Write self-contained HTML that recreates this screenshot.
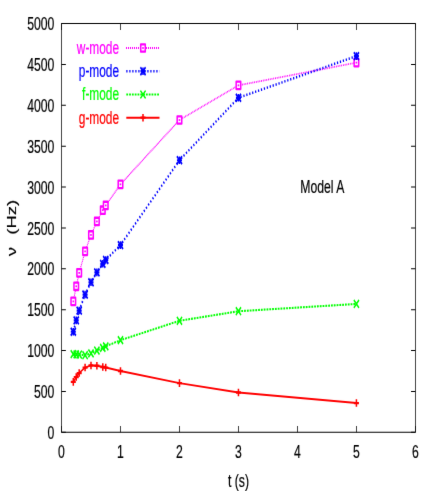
<!DOCTYPE html>
<html><head><meta charset="utf-8"><title>Mode frequencies - Model A</title>
<style>
html,body{margin:0;padding:0;background:#fff;}
body{width:436px;height:491px;overflow:hidden;}
svg{display:block;}
svg text{font-family:"Liberation Sans",sans-serif;stroke-width:0.22;paint-order:stroke;}
</style></head><body>
<svg width="436" height="491" viewBox="0 0 436 491">
<rect x="0" y="0" width="436" height="491" fill="#fff"/>
<defs><filter id="soft" color-interpolation-filters="sRGB" x="0" y="0" width="436" height="491" filterUnits="userSpaceOnUse"><feConvolveMatrix order="3" kernelMatrix="0.00490 0.06020 0.00490 0.06020 0.73960 0.06020 0.00490 0.06020 0.00490" divisor="1" edgeMode="duplicate" preserveAlpha="true"/></filter></defs>
<g filter="url(#soft)"><rect x="0" y="0" width="436" height="491" fill="#fff"/>
<g transform="scale(0.66,1)" stroke-linejoin="round">
<rect x="93.18" y="23.55" width="536.21" height="408.75" fill="none" stroke="#000" stroke-width="1.1"/>
<path d="M93.18 432.30h6.60M629.39 432.30h-6.60" stroke="#000" stroke-width="1.1"/>
<path d="M93.18 391.43h6.60M629.39 391.43h-6.60" stroke="#000" stroke-width="1.1"/>
<path d="M93.18 350.55h6.60M629.39 350.55h-6.60" stroke="#000" stroke-width="1.1"/>
<path d="M93.18 309.68h6.60M629.39 309.68h-6.60" stroke="#000" stroke-width="1.1"/>
<path d="M93.18 268.80h6.60M629.39 268.80h-6.60" stroke="#000" stroke-width="1.1"/>
<path d="M93.18 227.93h6.60M629.39 227.93h-6.60" stroke="#000" stroke-width="1.1"/>
<path d="M93.18 187.05h6.60M629.39 187.05h-6.60" stroke="#000" stroke-width="1.1"/>
<path d="M93.18 146.18h6.60M629.39 146.18h-6.60" stroke="#000" stroke-width="1.1"/>
<path d="M93.18 105.30h6.60M629.39 105.30h-6.60" stroke="#000" stroke-width="1.1"/>
<path d="M93.18 64.43h6.60M629.39 64.43h-6.60" stroke="#000" stroke-width="1.1"/>
<path d="M93.18 23.55h6.60M629.39 23.55h-6.60" stroke="#000" stroke-width="1.1"/>
<path d="M93.18 432.30v-6.40M93.18 23.55v6.40" stroke="#000" stroke-width="1.1"/>
<path d="M182.55 432.30v-6.40M182.55 23.55v6.40" stroke="#000" stroke-width="1.1"/>
<path d="M271.92 432.30v-6.40M271.92 23.55v6.40" stroke="#000" stroke-width="1.1"/>
<path d="M361.29 432.30v-6.40M361.29 23.55v6.40" stroke="#000" stroke-width="1.1"/>
<path d="M450.66 432.30v-6.40M450.66 23.55v6.40" stroke="#000" stroke-width="1.1"/>
<path d="M540.03 432.30v-6.40M540.03 23.55v6.40" stroke="#000" stroke-width="1.1"/>
<path d="M629.39 432.30v-6.40M629.39 23.55v6.40" stroke="#000" stroke-width="1.1"/>
<text x="82.27" y="438.95" text-anchor="end" font-size="18.5" stroke="#000">0</text>
<text x="82.27" y="398.07" text-anchor="end" font-size="18.5" stroke="#000">500</text>
<text x="82.27" y="357.20" text-anchor="end" font-size="18.5" stroke="#000">1000</text>
<text x="82.27" y="316.32" text-anchor="end" font-size="18.5" stroke="#000">1500</text>
<text x="82.27" y="275.45" text-anchor="end" font-size="18.5" stroke="#000">2000</text>
<text x="82.27" y="234.58" text-anchor="end" font-size="18.5" stroke="#000">2500</text>
<text x="82.27" y="193.70" text-anchor="end" font-size="18.5" stroke="#000">3000</text>
<text x="82.27" y="152.83" text-anchor="end" font-size="18.5" stroke="#000">3500</text>
<text x="82.27" y="111.95" text-anchor="end" font-size="18.5" stroke="#000">4000</text>
<text x="82.27" y="71.08" text-anchor="end" font-size="18.5" stroke="#000">4500</text>
<text x="82.27" y="30.20" text-anchor="end" font-size="18.5" stroke="#000">5000</text>
<text x="93.18" y="458.30" text-anchor="middle" font-size="18.5" stroke="#000">0</text>
<text x="182.55" y="458.30" text-anchor="middle" font-size="18.5" stroke="#000">1</text>
<text x="271.92" y="458.30" text-anchor="middle" font-size="18.5" stroke="#000">2</text>
<text x="361.29" y="458.30" text-anchor="middle" font-size="18.5" stroke="#000">3</text>
<text x="450.66" y="458.30" text-anchor="middle" font-size="18.5" stroke="#000">4</text>
<text x="540.03" y="458.30" text-anchor="middle" font-size="18.5" stroke="#000">5</text>
<text x="629.39" y="458.30" text-anchor="middle" font-size="18.5" stroke="#000">6</text>
<text x="361.36" y="487.40" text-anchor="middle" font-size="18.5" stroke="#000">t (s)</text>
<text transform="translate(24.70,251.60) rotate(-90)" text-anchor="middle" font-size="18.5" stroke="#000">ν</text>
<text transform="translate(24.70,217.30) rotate(-90)" text-anchor="middle" font-size="18.5" stroke="#000">(Hz)</text>
<text x="455.00" y="193.20" font-size="18.5" stroke="#000">Model A</text>
<polyline points="111.06,301.42 115.52,286.29 119.99,272.89 128.93,251.39 137.87,234.96 146.80,221.47 155.74,210.19 160.21,205.44 182.55,184.35 271.92,120.01" fill="none" stroke="#ff00ff" stroke-width="1.6" stroke-dasharray="1.2 0.8" />
<polyline points="271.92,120.01 361.29,85.35" fill="none" stroke="#ff00ff" stroke-width="1.7" stroke-dasharray="1.25 1.1" />
<polyline points="361.29,85.35 540.03,62.63" fill="none" stroke="#ff00ff" stroke-width="1.8" stroke-dasharray="1.33 1.33" />
<polyline points="111.06,331.75 115.52,320.38 119.99,310.57 128.93,294.55 137.87,282.29 146.80,272.40 155.74,263.81 160.21,259.97 182.55,245.09 271.92,160.24 361.29,97.78 540.03,56.09" fill="none" stroke="#0000ff" stroke-width="2.5" stroke-dasharray="1.85 2.7" />
<polyline points="111.06,354.15 115.52,354.39 119.99,354.56 128.93,355.21 137.87,353.33 146.80,350.55 155.74,347.93 160.21,346.38 182.55,340.17 271.92,320.79 361.29,311.23 540.03,303.95" fill="none" stroke="#00ff00" stroke-width="2.1" stroke-dasharray="2.75 1.5" />
<polyline points="111.06,381.86 115.52,377.04 119.99,373.03 128.93,367.55 137.87,365.43 146.80,365.76 155.74,366.98 160.21,367.55 182.55,370.99 271.92,383.17 361.29,392.49 540.03,403.03" fill="none" stroke="#ff0000" stroke-width="1.9" />
<rect x="107.61" y="297.72" width="6.90" height="7.40" fill="#fff" stroke="#ff00ff" stroke-width="2.3"/><rect x="109.86" y="300.52" width="2.4" height="1.8" fill="#ff00ff"/>
<rect x="112.07" y="282.59" width="6.90" height="7.40" fill="#fff" stroke="#ff00ff" stroke-width="2.3"/><rect x="114.32" y="285.39" width="2.4" height="1.8" fill="#ff00ff"/>
<rect x="116.54" y="269.19" width="6.90" height="7.40" fill="#fff" stroke="#ff00ff" stroke-width="2.3"/><rect x="118.79" y="271.99" width="2.4" height="1.8" fill="#ff00ff"/>
<rect x="125.48" y="247.69" width="6.90" height="7.40" fill="#fff" stroke="#ff00ff" stroke-width="2.3"/><rect x="127.73" y="250.49" width="2.4" height="1.8" fill="#ff00ff"/>
<rect x="134.42" y="231.26" width="6.90" height="7.40" fill="#fff" stroke="#ff00ff" stroke-width="2.3"/><rect x="136.67" y="234.06" width="2.4" height="1.8" fill="#ff00ff"/>
<rect x="143.35" y="217.77" width="6.90" height="7.40" fill="#fff" stroke="#ff00ff" stroke-width="2.3"/><rect x="145.60" y="220.57" width="2.4" height="1.8" fill="#ff00ff"/>
<rect x="152.29" y="206.49" width="6.90" height="7.40" fill="#fff" stroke="#ff00ff" stroke-width="2.3"/><rect x="154.54" y="209.29" width="2.4" height="1.8" fill="#ff00ff"/>
<rect x="156.76" y="201.74" width="6.90" height="7.40" fill="#fff" stroke="#ff00ff" stroke-width="2.3"/><rect x="159.01" y="204.54" width="2.4" height="1.8" fill="#ff00ff"/>
<rect x="179.10" y="180.65" width="6.90" height="7.40" fill="#fff" stroke="#ff00ff" stroke-width="2.3"/><rect x="181.35" y="183.45" width="2.4" height="1.8" fill="#ff00ff"/>
<rect x="268.47" y="116.31" width="6.90" height="7.40" fill="#fff" stroke="#ff00ff" stroke-width="2.3"/><rect x="270.72" y="119.11" width="2.4" height="1.8" fill="#ff00ff"/>
<rect x="357.84" y="81.65" width="6.90" height="7.40" fill="#fff" stroke="#ff00ff" stroke-width="2.3"/><rect x="360.09" y="84.45" width="2.4" height="1.8" fill="#ff00ff"/>
<rect x="536.58" y="58.93" width="6.90" height="7.40" fill="#fff" stroke="#ff00ff" stroke-width="2.3"/><rect x="538.83" y="61.73" width="2.4" height="1.8" fill="#ff00ff"/>
<path d="M107.16 327.85L114.96 335.65M107.16 335.65L114.96 327.85" stroke="#0000ff" stroke-width="2.2" fill="none"/><path d="M107.26 331.75L114.86 331.75M111.06 327.95L111.06 335.55" stroke="#0000ff" stroke-width="2.2" fill="none"/>
<path d="M111.62 316.48L119.42 324.28M111.62 324.28L119.42 316.48" stroke="#0000ff" stroke-width="2.2" fill="none"/><path d="M111.72 320.38L119.32 320.38M115.52 316.58L115.52 324.18" stroke="#0000ff" stroke-width="2.2" fill="none"/>
<path d="M116.09 306.67L123.89 314.47M116.09 314.47L123.89 306.67" stroke="#0000ff" stroke-width="2.2" fill="none"/><path d="M116.19 310.57L123.79 310.57M119.99 306.77L119.99 314.37" stroke="#0000ff" stroke-width="2.2" fill="none"/>
<path d="M125.03 290.65L132.83 298.45M125.03 298.45L132.83 290.65" stroke="#0000ff" stroke-width="2.2" fill="none"/><path d="M125.13 294.55L132.73 294.55M128.93 290.75L128.93 298.35" stroke="#0000ff" stroke-width="2.2" fill="none"/>
<path d="M133.97 278.39L141.77 286.19M133.97 286.19L141.77 278.39" stroke="#0000ff" stroke-width="2.2" fill="none"/><path d="M134.07 282.29L141.67 282.29M137.87 278.49L137.87 286.09" stroke="#0000ff" stroke-width="2.2" fill="none"/>
<path d="M142.90 268.50L150.70 276.30M142.90 276.30L150.70 268.50" stroke="#0000ff" stroke-width="2.2" fill="none"/><path d="M143.00 272.40L150.60 272.40M146.80 268.60L146.80 276.20" stroke="#0000ff" stroke-width="2.2" fill="none"/>
<path d="M151.84 259.91L159.64 267.71M151.84 267.71L159.64 259.91" stroke="#0000ff" stroke-width="2.2" fill="none"/><path d="M151.94 263.81L159.54 263.81M155.74 260.01L155.74 267.61" stroke="#0000ff" stroke-width="2.2" fill="none"/>
<path d="M156.31 256.07L164.11 263.87M156.31 263.87L164.11 256.07" stroke="#0000ff" stroke-width="2.2" fill="none"/><path d="M156.41 259.97L164.01 259.97M160.21 256.17L160.21 263.77" stroke="#0000ff" stroke-width="2.2" fill="none"/>
<path d="M178.65 241.19L186.45 248.99M178.65 248.99L186.45 241.19" stroke="#0000ff" stroke-width="2.2" fill="none"/><path d="M178.75 245.09L186.35 245.09M182.55 241.29L182.55 248.89" stroke="#0000ff" stroke-width="2.2" fill="none"/>
<path d="M268.02 156.34L275.82 164.14M268.02 164.14L275.82 156.34" stroke="#0000ff" stroke-width="2.2" fill="none"/><path d="M268.12 160.24L275.72 160.24M271.92 156.44L271.92 164.04" stroke="#0000ff" stroke-width="2.2" fill="none"/>
<path d="M357.39 93.88L365.19 101.68M357.39 101.68L365.19 93.88" stroke="#0000ff" stroke-width="2.2" fill="none"/><path d="M357.49 97.78L365.09 97.78M361.29 93.98L361.29 101.58" stroke="#0000ff" stroke-width="2.2" fill="none"/>
<path d="M536.13 52.19L543.93 59.99M536.13 59.99L543.93 52.19" stroke="#0000ff" stroke-width="2.2" fill="none"/><path d="M536.23 56.09L543.83 56.09M540.03 52.29L540.03 59.89" stroke="#0000ff" stroke-width="2.2" fill="none"/>
<path d="M107.16 350.25L114.96 358.05M107.16 358.05L114.96 350.25" stroke="#00ff00" stroke-width="2.0" fill="none"/>
<path d="M111.62 350.49L119.42 358.29M111.62 358.29L119.42 350.49" stroke="#00ff00" stroke-width="2.0" fill="none"/>
<path d="M116.09 350.66L123.89 358.46M116.09 358.46L123.89 350.66" stroke="#00ff00" stroke-width="2.0" fill="none"/>
<path d="M125.03 351.31L132.83 359.11M125.03 359.11L132.83 351.31" stroke="#00ff00" stroke-width="2.0" fill="none"/>
<path d="M133.97 349.43L141.77 357.23M133.97 357.23L141.77 349.43" stroke="#00ff00" stroke-width="2.0" fill="none"/>
<path d="M142.90 346.65L150.70 354.45M142.90 354.45L150.70 346.65" stroke="#00ff00" stroke-width="2.0" fill="none"/>
<path d="M151.84 344.03L159.64 351.83M151.84 351.83L159.64 344.03" stroke="#00ff00" stroke-width="2.0" fill="none"/>
<path d="M156.31 342.48L164.11 350.28M156.31 350.28L164.11 342.48" stroke="#00ff00" stroke-width="2.0" fill="none"/>
<path d="M178.65 336.27L186.45 344.07M178.65 344.07L186.45 336.27" stroke="#00ff00" stroke-width="2.0" fill="none"/>
<path d="M268.02 316.89L275.82 324.69M268.02 324.69L275.82 316.89" stroke="#00ff00" stroke-width="2.0" fill="none"/>
<path d="M357.39 307.33L365.19 315.13M357.39 315.13L365.19 307.33" stroke="#00ff00" stroke-width="2.0" fill="none"/>
<path d="M536.13 300.05L543.93 307.85M536.13 307.85L543.93 300.05" stroke="#00ff00" stroke-width="2.0" fill="none"/>
<path d="M107.26 381.86L114.86 381.86M111.06 378.06L111.06 385.66" stroke="#ff0000" stroke-width="2.3" fill="none"/>
<path d="M111.72 377.04L119.32 377.04M115.52 373.24L115.52 380.84" stroke="#ff0000" stroke-width="2.3" fill="none"/>
<path d="M116.19 373.03L123.79 373.03M119.99 369.23L119.99 376.83" stroke="#ff0000" stroke-width="2.3" fill="none"/>
<path d="M125.13 367.55L132.73 367.55M128.93 363.75L128.93 371.35" stroke="#ff0000" stroke-width="2.3" fill="none"/>
<path d="M134.07 365.43L141.67 365.43M137.87 361.63L137.87 369.23" stroke="#ff0000" stroke-width="2.3" fill="none"/>
<path d="M143.00 365.76L150.60 365.76M146.80 361.96L146.80 369.56" stroke="#ff0000" stroke-width="2.3" fill="none"/>
<path d="M151.94 366.98L159.54 366.98M155.74 363.18L155.74 370.78" stroke="#ff0000" stroke-width="2.3" fill="none"/>
<path d="M156.41 367.55L164.01 367.55M160.21 363.75L160.21 371.35" stroke="#ff0000" stroke-width="2.3" fill="none"/>
<path d="M178.75 370.99L186.35 370.99M182.55 367.19L182.55 374.79" stroke="#ff0000" stroke-width="2.3" fill="none"/>
<path d="M268.12 383.17L275.72 383.17M271.92 379.37L271.92 386.97" stroke="#ff0000" stroke-width="2.3" fill="none"/>
<path d="M357.49 392.49L365.09 392.49M361.29 388.69L361.29 396.29" stroke="#ff0000" stroke-width="2.3" fill="none"/>
<path d="M536.23 403.03L543.83 403.03M540.03 399.23L540.03 406.83" stroke="#ff0000" stroke-width="2.3" fill="none"/>
<text x="180.45" y="54.00" text-anchor="end" font-size="18" fill="#ff00ff" stroke="#ff00ff">w-mode</text>
<path d="M190.91 48.00H241.67" stroke="#ff00ff" stroke-width="1.9" stroke-dasharray="1.515 1.515" fill="none"/>
<rect x="213.22" y="44.30" width="6.90" height="7.40" fill="#fff" stroke="#ff00ff" stroke-width="2.3"/><rect x="215.47" y="47.10" width="2.4" height="1.8" fill="#ff00ff"/>
<text x="180.45" y="77.20" text-anchor="end" font-size="18" fill="#0000ff" stroke="#0000ff">p-mode</text>
<path d="M191.36 71.20H241.67" stroke="#0000ff" stroke-width="2.5" stroke-dasharray="1.85 2.7" fill="none"/>
<path d="M212.77 67.30L220.57 75.10M212.77 75.10L220.57 67.30" stroke="#0000ff" stroke-width="2.2" fill="none"/><path d="M212.87 71.20L220.47 71.20M216.67 67.40L216.67 75.00" stroke="#0000ff" stroke-width="2.2" fill="none"/>
<text x="180.45" y="100.50" text-anchor="end" font-size="18" fill="#00ff00" stroke="#00ff00">f-mode</text>
<path d="M191.36 94.50H241.67" stroke="#00ff00" stroke-width="2.1" stroke-dasharray="2.75 1.5" fill="none"/>
<path d="M212.77 90.60L220.57 98.40M212.77 98.40L220.57 90.60" stroke="#00ff00" stroke-width="2.0" fill="none"/>
<text x="180.45" y="123.70" text-anchor="end" font-size="18" fill="#ff0000" stroke="#ff0000">g-mode</text>
<path d="M191.36 117.70H241.67" stroke="#ff0000" stroke-width="1.9" fill="none"/>
<path d="M212.87 117.70L220.47 117.70M216.67 113.90L216.67 121.50" stroke="#ff0000" stroke-width="2.3" fill="none"/>
</g></g>
</svg>
</body></html>
